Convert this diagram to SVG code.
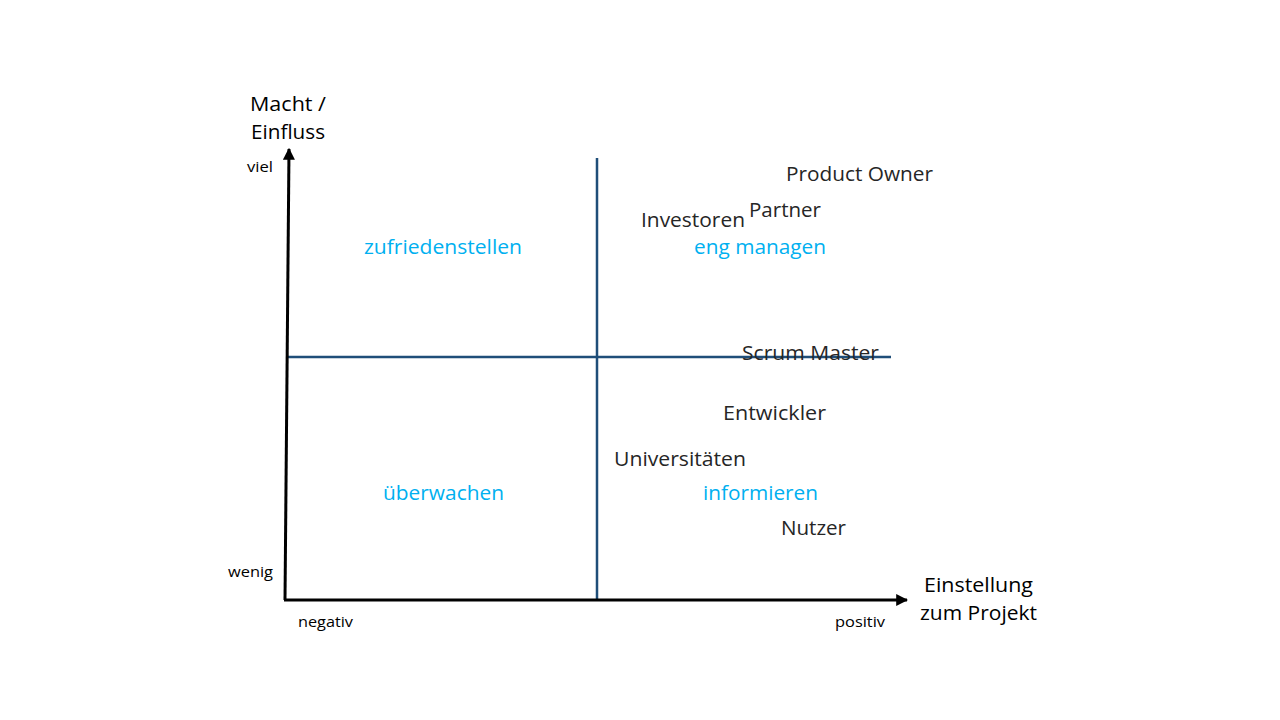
<svg xmlns="http://www.w3.org/2000/svg" width="1280" height="720" viewBox="0 0 1280 720">
<style>
text{font-family:"Open Sans","Noto Sans","Liberation Sans",sans-serif;}
.ax{font-size:20px;fill:#000}
.sm{font-size:15px;fill:#000}
.q{font-size:20px;fill:#00b0f0}
.n{font-size:20px;fill:#262626}
.axis{stroke:#000;stroke-width:3;fill:none}
.grid{stroke:#1f4e79;stroke-width:2.5;fill:none}
</style>
<defs>
<marker id="ah" viewBox="0 0 10 10" refX="9" refY="5" markerWidth="4" markerHeight="4" orient="auto" markerUnits="strokeWidth">
<path d="M0,0 L10,5 L0,10 z" fill="#000"/>
</marker>
</defs>
<rect width="1280" height="720" fill="#fff"/>
<g id="connectors">
<line class="grid" x1="597" y1="158" x2="597" y2="600"/>
<line class="grid" x1="287" y1="357" x2="891" y2="357"/>
<line class="axis" x1="285" y1="600" x2="289" y2="149" marker-end="url(#ah)"/>
<line class="axis" x1="284" y1="600" x2="907" y2="600" marker-end="url(#ah)"/>
</g>
<g id="axis-labels">
<text class="ax" x="250" y="111" textLength="76" lengthAdjust="spacingAndGlyphs">Macht /</text>
<text class="ax" x="251" y="139" textLength="74" lengthAdjust="spacingAndGlyphs">Einfluss</text>
<text class="sm" x="247" y="172" textLength="26" lengthAdjust="spacingAndGlyphs">viel</text>
<text class="sm" x="228" y="577" textLength="45" lengthAdjust="spacingAndGlyphs">wenig</text>
<text class="sm" x="298" y="627" textLength="55" lengthAdjust="spacingAndGlyphs">negativ</text>
<text class="sm" x="835" y="627" textLength="50" lengthAdjust="spacingAndGlyphs">positiv</text>
<text class="ax" x="924" y="592" textLength="109" lengthAdjust="spacingAndGlyphs">Einstellung</text>
<text class="ax" x="920" y="620" textLength="117" lengthAdjust="spacingAndGlyphs">zum Projekt</text>
</g>
<g id="quadrants">
<text class="q" x="364" y="254" textLength="158" lengthAdjust="spacingAndGlyphs">zufriedenstellen</text>
<text class="q" x="694" y="254" textLength="132" lengthAdjust="spacingAndGlyphs">eng managen</text>
<text class="q" x="383" y="500" textLength="121" lengthAdjust="spacingAndGlyphs">überwachen</text>
<text class="q" x="703" y="500" textLength="115" lengthAdjust="spacingAndGlyphs">informieren</text>
</g>
<g id="product-owner"><text class="n" x="786" y="181" textLength="147" lengthAdjust="spacingAndGlyphs">Product Owner</text></g>
<g id="partner"><text class="n" x="749" y="217" textLength="72" lengthAdjust="spacingAndGlyphs">Partner</text></g>
<g id="investoren"><text class="n" x="641" y="227" textLength="104" lengthAdjust="spacingAndGlyphs">Investoren</text></g>
<g id="scrum-master"><text class="n" x="742" y="360" textLength="137" lengthAdjust="spacingAndGlyphs">Scrum Master</text></g>
<g id="entwickler"><text class="n" x="723" y="420" textLength="103" lengthAdjust="spacingAndGlyphs">Entwickler</text></g>
<g id="universitaeten"><text class="n" x="614" y="466" textLength="132" lengthAdjust="spacingAndGlyphs">Universitäten</text></g>
<g id="nutzer"><text class="n" x="781" y="535" textLength="65" lengthAdjust="spacingAndGlyphs">Nutzer</text></g>
</svg>
